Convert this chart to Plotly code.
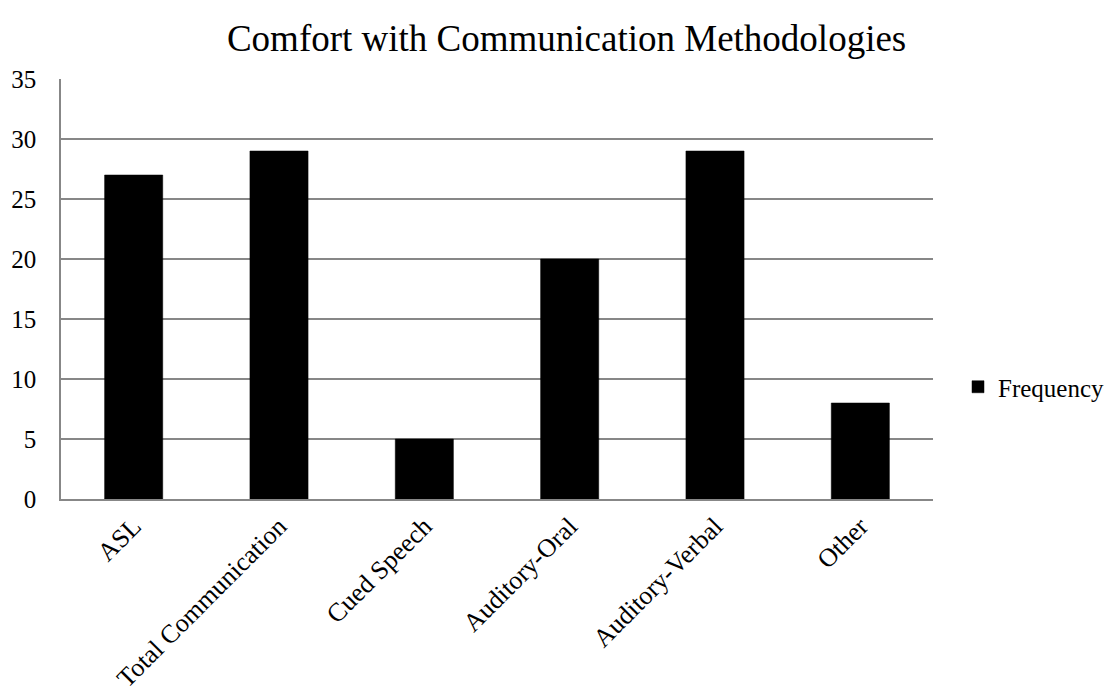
import plotly.graph_objects as go

categories = ["ASL", "Total Communication", "Cued Speech", "Auditory-Oral", "Auditory-Verbal", "Other"]
frequency = [27, 29, 5, 20, 29, 8]
y_ticks = [0, 5, 10, 15, 20, 25, 30, 35]

FONT = "Liberation Serif, Times New Roman, serif"
GRID = "#878787"

fig = go.Figure()
fig.add_trace(go.Bar(
    x=categories, y=frequency, name="Frequency",
    marker=dict(color="black", line=dict(color="black", width=0.5)),
))

fig.update_layout(
    width=1111, height=696,
    paper_bgcolor="white", plot_bgcolor="white",
    margin=dict(l=61, r=178, t=79, b=197),
    bargap=0.6,
    font=dict(family=FONT, color="black", size=22),
    title=dict(text="Comfort with Communication Methodologies", x=0.51, xanchor="center",
               y=1 - 38 / 696, yanchor="middle", font=dict(size=37, family=FONT, color="black")),
    showlegend=True,
    legend=dict(xref="container", yref="container", x=958 / 1111, xanchor="left",
                y=1 - 387 / 696, yanchor="middle",
                font=dict(size=25, family=FONT, color="black"), bgcolor="rgba(0,0,0,0)"),
    xaxis=dict(showline=True, linecolor=GRID, linewidth=1.5, tickangle=-45, automargin=False,
               tickfont=dict(size=26, family=FONT, color="black"), ticks="", ticklabelstandoff=0),
    yaxis=dict(range=[0, 35], tickvals=y_ticks, showline=True, linecolor=GRID, linewidth=1.5,
               gridcolor=GRID, gridwidth=1.5, zeroline=False, ticks="", automargin=False,
               tickfont=dict(size=25, family=FONT, color="black"), ticklabelstandoff=18),
)

fig.write_html("out.html", config={"displayModeBar": False},
               post_script="document.body.style.margin='0';")
